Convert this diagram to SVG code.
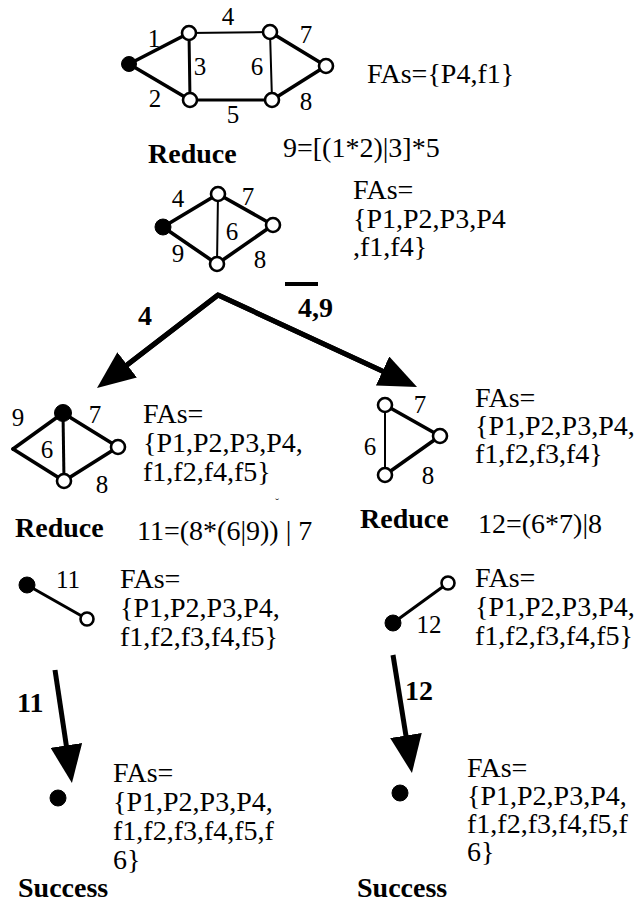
<svg xmlns="http://www.w3.org/2000/svg" width="638" height="907" viewBox="0 0 638 907">
  <style>
    text { font-family: "Liberation Serif", "Times New Roman", serif; fill: #000; }
    .t { font-size: 28px; }
    .lb { font-size: 25px; text-anchor: middle; }
    .b { font-size: 28px; font-weight: bold; }
    .e { stroke: #000; stroke-linecap: round; fill: none; }
    .thick { stroke-width: 3.6; }
    .mid { stroke-width: 3; }
    .thin { stroke-width: 2; }
    .v { fill: #fff; stroke: #000; stroke-width: 2.6; }
    .vf { fill: #000; stroke: #000; stroke-width: 1; }
    .shaft { stroke: #000; stroke-width: 5; fill: none; stroke-linejoin: miter; }
    .arrow { stroke: #000; stroke-width: 5; fill: none; marker-end: url(#head); }
  </style>
  <defs>
    <marker id="head" viewBox="0 0 38 32" refX="8" refY="16" markerWidth="38" markerHeight="32" markerUnits="userSpaceOnUse" orient="auto">
      <path d="M0,0 L38,16 L0,32 z" fill="#000"/>
    </marker>
  </defs>

  <!-- initial network -->
  <g id="net0">
    <line class="e thick" x1="129" y1="64" x2="189" y2="33"/>
    <line class="e thick" x1="129" y1="64" x2="190" y2="100"/>
    <line class="e mid" x1="189" y1="33" x2="190" y2="100"/>
    <line class="e thin" x1="189" y1="33" x2="270" y2="32"/>
    <line class="e mid" x1="190" y1="100" x2="272" y2="100"/>
    <line class="e thin" x1="270" y1="32" x2="272" y2="100"/>
    <line class="e thick" x1="270" y1="32" x2="326" y2="66"/>
    <line class="e thick" x1="272" y1="100" x2="326" y2="66"/>
    <circle class="vf" cx="129" cy="64" r="7.5"/>
    <circle class="v" cx="189" cy="33" r="7"/>
    <circle class="v" cx="190" cy="100" r="7"/>
    <circle class="v" cx="270" cy="32" r="7"/>
    <circle class="v" cx="272" cy="100" r="7"/>
    <circle class="v" cx="326" cy="66" r="7"/>
    <text class="lb" x="154" y="47">1</text>
    <text class="lb" x="155" y="107">2</text>
    <text class="lb" x="200" y="75">3</text>
    <text class="lb" x="228" y="25">4</text>
    <text class="lb" x="233" y="123">5</text>
    <text class="lb" x="257" y="75">6</text>
    <text class="lb" x="306" y="43">7</text>
    <text class="lb" x="306" y="110">8</text>
    <text class="t" x="367" y="83">FAs={P4,f1}</text>
    <text class="b" x="148" y="163">Reduce</text>
    <text class="t" x="283" y="157">9=[(1*2)|3]*5</text>
  </g>

  <!-- after first reduction -->
  <g id="net1">
    <line class="e thick" x1="163" y1="227" x2="218" y2="194"/>
    <line class="e thick" x1="163" y1="227" x2="217" y2="264"/>
    <line class="e thin" x1="218" y1="194" x2="217" y2="264"/>
    <line class="e thick" x1="218" y1="194" x2="273" y2="225"/>
    <line class="e thick" x1="217" y1="264" x2="273" y2="225"/>
    <circle class="vf" cx="163" cy="227" r="8"/>
    <circle class="v" cx="218" cy="194" r="7"/>
    <circle class="v" cx="217" cy="264" r="7"/>
    <circle class="v" cx="273" cy="225" r="7"/>
    <text class="lb" x="178" y="207">4</text>
    <text class="lb" x="248" y="205">7</text>
    <text class="lb" x="232" y="240">6</text>
    <text class="lb" x="178" y="262">9</text>
    <text class="lb" x="260" y="268">8</text>
    <text class="t" x="353" y="199">FAs=</text>
    <text class="t" x="353" y="228">{P1,P2,P3,P4</text>
    <text class="t" x="353" y="256">,f1,f4}</text>
  </g>

  <!-- branch: edge 4 working -->
  <g id="net2a">
    <line class="e thick" x1="63" y1="413" x2="13" y2="449"/>
    <line class="e thick" x1="13" y1="449" x2="64" y2="481"/>
    <line class="e mid" x1="63" y1="413" x2="64" y2="481"/>
    <line class="e thick" x1="63" y1="413" x2="118" y2="447"/>
    <line class="e thick" x1="64" y1="481" x2="118" y2="447"/>
    <circle class="vf" cx="63" cy="413" r="8.5"/>
    <circle class="v" cx="64" cy="481" r="7"/>
    <circle class="v" cx="118" cy="447" r="7"/>
    <text class="lb" x="18" y="426">9</text>
    <text class="lb" x="95" y="423">7</text>
    <text class="lb" x="47" y="458">6</text>
    <text class="lb" x="102" y="493">8</text>
    <text class="t" x="143" y="423">FAs=</text>
    <text class="t" x="143" y="452">{P1,P2,P3,P4,</text>
    <text class="t" x="143" y="481">f1,f2,f4,f5}</text>
    <text x="277" y="506" font-size="11" fill="#888" text-anchor="middle">ˇ</text>
    <text class="b" x="15" y="537">Reduce</text>
    <text class="t" x="137" y="540">11=(8*(6|9)) | 7</text>
  </g>

  <!-- branch: edge 4 failed, edge 9 working -->
  <g id="net2b">
    <line class="e thin" x1="385" y1="405" x2="385" y2="475"/>
    <line class="e thick" x1="385" y1="405" x2="440" y2="436"/>
    <line class="e thick" x1="385" y1="475" x2="440" y2="436"/>
    <circle class="v" cx="385" cy="405" r="7"/>
    <circle class="v" cx="440" cy="436" r="7"/>
    <circle class="v" cx="385" cy="475" r="7"/>
    <text class="lb" x="420" y="413">7</text>
    <text class="lb" x="370" y="455">6</text>
    <text class="lb" x="428" y="484">8</text>
    <text class="t" x="475" y="407">FAs=</text>
    <text class="t" x="475" y="435">{P1,P2,P3,P4,</text>
    <text class="t" x="475" y="463">f1,f2,f3,f4}</text>
    <text class="b" x="360" y="528">Reduce</text>
    <text class="t" x="478" y="533">12=(6*7)|8</text>
  </g>

  <!-- single-edge networks -->
  <g id="net3a">
    <line class="e mid" x1="27" y1="585" x2="87" y2="619"/>
    <circle class="vf" cx="27" cy="585" r="8"/>
    <circle class="v" cx="87" cy="619" r="6.5"/>
    <text class="lb" x="68" y="588">11</text>
    <text class="t" x="120" y="588">FAs=</text>
    <text class="t" x="120" y="617">{P1,P2,P3,P4,</text>
    <text class="t" x="120" y="646">f1,f2,f3,f4,f5}</text>
  </g>

  <g id="net3b">
    <line class="e mid" x1="393" y1="623" x2="448" y2="583"/>
    <circle class="vf" cx="393" cy="623" r="8"/>
    <circle class="v" cx="448" cy="583" r="6.5"/>
    <text class="lb" x="429" y="633">12</text>
    <text class="t" x="475" y="587">FAs=</text>
    <text class="t" x="475" y="616">{P1,P2,P3,P4,</text>
    <text class="t" x="475" y="645">f1,f2,f3,f4,f5}</text>
  </g>

  <!-- terminal states -->
  <g id="end-a">
    <circle class="vf" cx="58" cy="798" r="8"/>
    <text class="t" x="113" y="782">FAs=</text>
    <text class="t" x="113" y="811">{P1,P2,P3,P4,</text>
    <text class="t" x="113" y="840">f1,f2,f3,f4,f5,f</text>
    <text class="t" x="113" y="869">6}</text>
    <text class="b" x="18" y="897">Success</text>
  </g>

  <g id="end-b">
    <circle class="vf" cx="400" cy="793" r="8"/>
    <text class="t" x="467" y="777">FAs=</text>
    <text class="t" x="467" y="805">{P1,P2,P3,P4,</text>
    <text class="t" x="467" y="833">f1,f2,f3,f4,f5,f</text>
    <text class="t" x="467" y="861">6}</text>
    <text class="b" x="357" y="897">Success</text>
  </g>

  <!-- transitions -->
  <g id="connectors">
    <polyline class="shaft" points="120.8,369.7 218,295 389.8,374.4"/>
    <line class="arrow" x1="218" y1="295" x2="120.8" y2="369.7"/>
    <line class="arrow" x1="218" y1="295" x2="389.8" y2="374.4"/>
    <line class="arrow" x1="55" y1="670" x2="67.5" y2="753.3"/>
    <line class="arrow" x1="393" y1="655" x2="407.2" y2="743.4"/>
    <text class="b" x="145" y="325" text-anchor="middle">4</text>
    <line x1="285" y1="284" x2="318" y2="284" stroke="#000" stroke-width="4"/>
    <text class="b" x="298" y="317">4,9</text>
    <text class="b" x="17" y="712">11</text>
    <text class="b" x="405" y="700">12</text>
  </g>
</svg>
